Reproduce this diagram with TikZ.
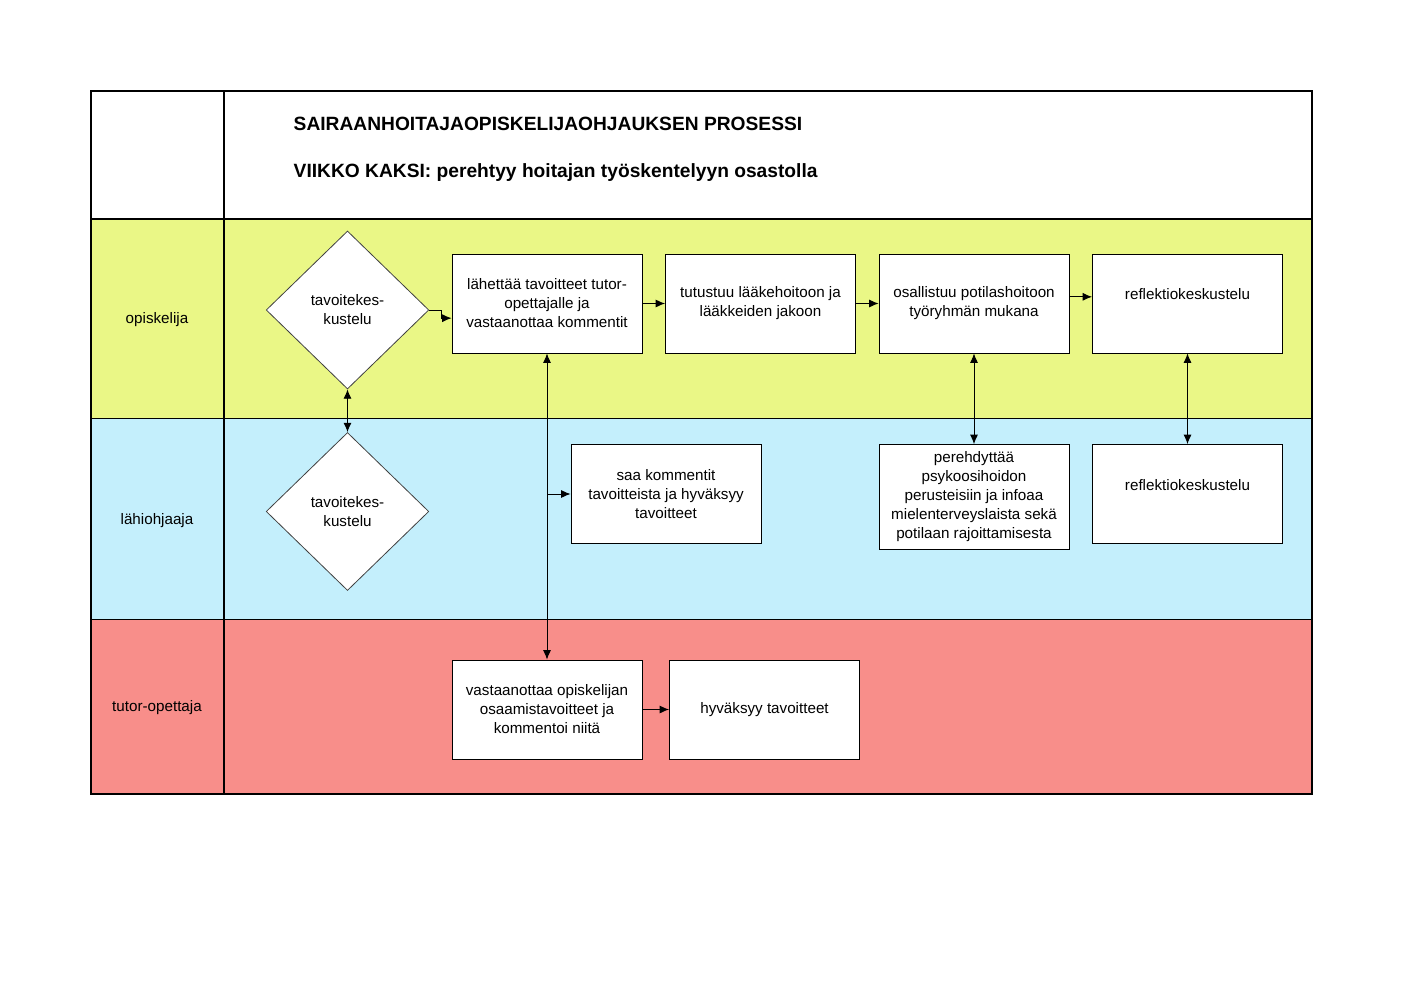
\documentclass[tikz,border=0pt]{standalone}
\usepackage{fontspec}
\setmainfont{Liberation Sans}
\usepackage{tikz}
\usepackage{xcolor}
\usetikzlibrary{arrows.meta,shapes.geometric,positioning}

\definecolor{keltainen}{RGB}{234,247,134}
\definecolor{sininen}{RGB}{196,239,252}
\definecolor{punainen}{RGB}{248,142,138}

\begin{document}
\begin{tikzpicture}[x=0.75pt,y=-0.75pt,
    >={Latex[length=7pt,width=6pt]},
    every node/.style={font=\fontsize{11.4}{14.25}\selectfont},
    laatikko/.style={draw, fill=white, line width=0.7pt, minimum width=142.5pt,
        minimum height=74.25pt, align=center, inner sep=2pt},
    vinoneliö/.style={draw=black!75, fill=white, line width=0.6pt, shape=diamond,
        minimum width=122pt, minimum height=118.5pt, inner sep=0pt, align=center},
    nuoli/.style={line width=0.7pt}]
    \useasboundingbox (0,0) rectangle (1403,992);

    % kaistat
    \foreach \yla/\ala/\vari/\nimi [count=\i] in {219/419/keltainen/opiskelija,
        419/620/sininen/lähiohjaaja, 620/794/punainen/tutor-opettaja} {
        \fill[\vari] (91,\yla) rectangle (1312,\ala);
        \node (rivi\i) at (157,{(\yla+\ala)/2+1}) {\nimi};
        \draw[line width=1.1pt] (91,\ala) -- (1312,\ala);
    }
    \draw[line width=1.1pt] (91,91) rectangle (1312,794);
    \draw[line width=1.1pt] (91,219) -- (1312,219);
    \draw[line width=1.1pt] (224,91) -- (224,794);

    \node[anchor=west, font=\fontsize{14.4}{17}\selectfont\bfseries] (otsikko) at (289,124)
        {SAIRAANHOITAJAOPISKELIJAOHJAUKSEN PROSESSI};
    \node[anchor=west, font=\fontsize{14.4}{17}\selectfont\bfseries] (viikko) at (289,173)
        {VIIKKO KAKSI: perehtyy hoitajan työskentelyyn osastolla};

    % vaiheet
    \node[vinoneliö] (keskustelu1) at (347.5,310) {tavoitekes-\\kustelu};
    \node[vinoneliö] (keskustelu2) at (347.5,511.5) {tavoitekes-\\kustelu};
    \node[laatikko] (lahettaa) at (547,303.5) {lähettää tavoitteet tutor-\\opettajalle ja\\vastaanottaa kommentit};
    \node[laatikko] (tutustuu) at (760.5,303.5) {tutustuu lääkehoitoon ja\\lääkkeiden jakoon};
    \node[laatikko] (osallistuu) at (974,303.5) {osallistuu potilashoitoon\\työryhmän mukana};
    \node[laatikko] (reflektio1) at (1187.5,303.5) {reflektiokeskustelu\\\mbox{}};
    \node[laatikko] (saa) at (666,494) {saa kommentit\\tavoitteista ja hyväksyy\\tavoitteet};
    \node[laatikko, minimum height=78.75pt] (perehdyttaa) at (974,497)
        {perehdyttää\\psykoosihoidon\\perusteisiin ja infoaa\\mielenterveyslaista sekä\\potilaan rajoittamisesta};
    \node[laatikko] (reflektio2) at (1187.5,494) {reflektiokeskustelu\\\mbox{}};
    \node[laatikko] (vastaanottaa) at (547,709.5) {vastaanottaa opiskelijan\\osaamistavoitteet ja\\kommentoi niitä};
    \node[laatikko] (hyvaksyy) at (764.5,709.5) {hyväksyy tavoitteet};

    % nuolet
    \draw[nuoli,->] (keskustelu1.east) -- ++(12,0) |- ([yshift=-11pt]lahettaa.west);
    \draw[nuoli,->] (lahettaa) -- (tutustuu);
    \draw[nuoli,->] (tutustuu) -- (osallistuu);
    \draw[nuoli,->] ([yshift=5pt]osallistuu.east) -- ([yshift=5pt]reflektio1.west);
    \draw[nuoli,<->] (keskustelu1.south) -- (keskustelu2.north);
    \draw[nuoli,<->] (lahettaa.south) -- (vastaanottaa.north);
    \draw[nuoli,->] (lahettaa.south |- saa.west) -- (saa.west);
    \draw[nuoli,<->] (osallistuu.south) -- (perehdyttaa.north);
    \draw[nuoli,<->] (reflektio1.south) -- (reflektio2.north);
    \draw[nuoli,->] (vastaanottaa) -- (hyvaksyy);
\end{tikzpicture}
\end{document}
